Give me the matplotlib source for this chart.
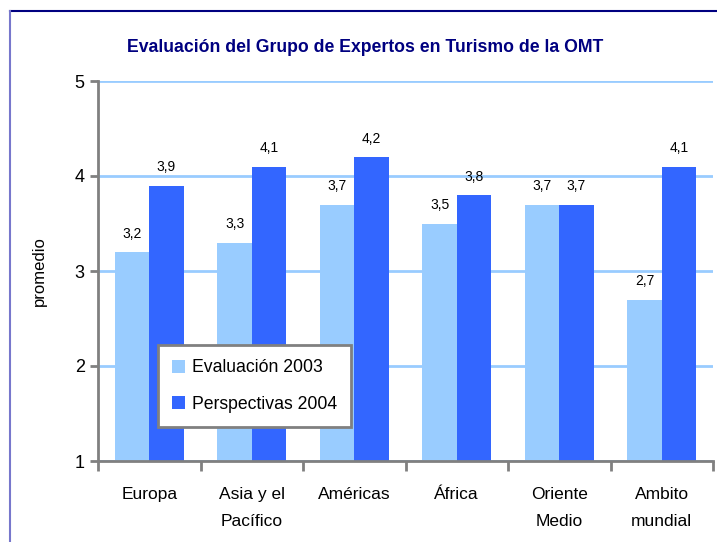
import numpy as np
import matplotlib.pyplot as plt
from matplotlib.lines import Line2D

#--- data ---#
categories = ["Europa", "Asia y el\nPacífico", "Américas", "África", "Oriente\nMedio", "Ambito\nmundial"]
eval_2003 = [3.2, 3.3, 3.7, 3.5, 3.7, 2.7]
persp_2004 = [3.9, 4.1, 4.2, 3.8, 3.7, 4.1]
yticks = [1, 2, 3, 4, 5]

plt.rcParams['font.family'] = ['Liberation Sans', 'DejaVu Sans']

fig = plt.figure(figsize=(7.17, 5.42), dpi=100)
ax = fig.add_axes([98/717, 1 - 461/542, (713-98)/717, (461-81)/542])

x = np.arange(len(categories))
w = 0.335
b1 = ax.bar(x - w/2, np.array(eval_2003) - 1, w, bottom=1, color='#99CCFF', label='Evaluación 2003', zorder=2)
b2 = ax.bar(x + w/2, np.array(persp_2004) - 1, w, bottom=1, color='#3366FF', label='Perspectivas 2004', zorder=2)

for xi, v in zip(x - w/2, eval_2003):
    ax.text(xi, v + 0.12, f"{v:.1f}".replace('.', ','), ha='center', va='bottom', fontsize=10)
for xi, v in zip(x + w/2, persp_2004):
    ax.text(xi, v + 0.12, f"{v:.1f}".replace('.', ','), ha='center', va='bottom', fontsize=10)

ax.set_xlim(-0.5, len(categories) - 0.5)
ax.set_ylim(1, 5)
ax.set_yticks(yticks)
ax.set_yticklabels([str(t) for t in yticks], fontsize=13)
ax.yaxis.grid(True, color='#99CCFF', linewidth=2, zorder=1)
ax.set_axisbelow(True)

# category ticks between groups, labels centered
ax.set_xticks(np.arange(len(categories) + 1) - 0.5)
ax.set_xticklabels([])
ax.set_xticks(x, minor=True)
ax.set_xticklabels(categories, minor=True, fontsize=12.5, linespacing=2.0)
ax.tick_params(axis='x', which='minor', length=0, pad=19)
ax.tick_params(axis='x', which='major', length=7, width=2, color='#808080', direction='out')
ax.tick_params(axis='y', length=6, width=2, color='#808080', direction='out')

for s in ['top', 'right']:
    ax.spines[s].set_visible(False)
for s in ['left', 'bottom']:
    ax.spines[s].set_color('#808080')
    ax.spines[s].set_linewidth(2)

ax.set_ylabel('promedio', fontsize=12, labelpad=20)

fig.text(365/717, 1 - 47/542, 'Evaluación del Grupo de Expertos en Turismo de la OMT',
         ha='center', va='center', fontsize=12.7, fontweight='bold', color='#000080')

leg = ax.legend(loc='upper left', bbox_to_anchor=(0.097, 0.305), fontsize=12.7,
                frameon=True, fancybox=False, framealpha=1, handlelength=0.75, handleheight=0.75,
                labelspacing=1.1, borderpad=0.8, handletextpad=0.4, borderaxespad=0)
leg.get_frame().set_edgecolor('#808080')
leg.get_frame().set_linewidth(2)

# outer frame lines
fig.add_artist(Line2D([9.5/717, 1], [1 - 11/542, 1 - 11/542], color='#000080', linewidth=1.5))
fig.add_artist(Line2D([9.5/717, 9.5/717], [0, 1 - 11/542], color='#7777CC', linewidth=1.5))

fig.savefig('out.png', dpi=100)
